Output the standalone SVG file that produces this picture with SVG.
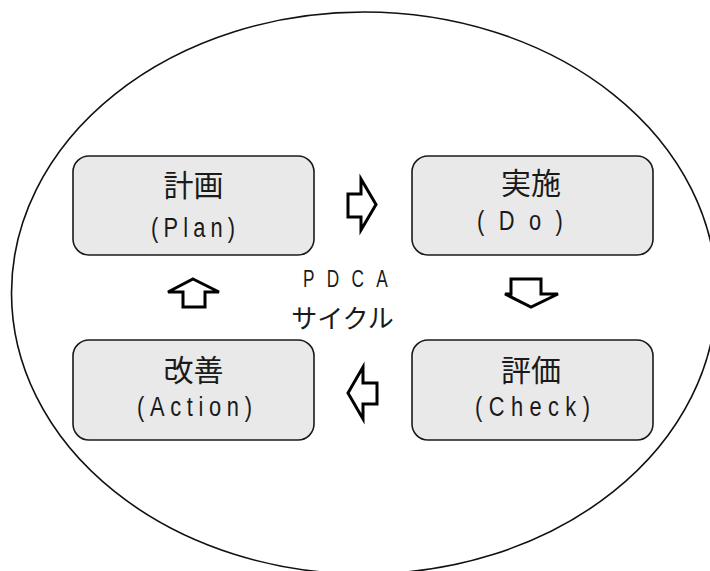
<svg xmlns="http://www.w3.org/2000/svg" width="710" height="571" viewBox="0 0 710 571">
<style>
.bg{fill:#fff}
.cycle{fill:none;stroke:#111;stroke-width:1.6}
.box{fill:#e9e9e9;stroke:#1a1a1a;stroke-width:1.6}
.t{font-family:"Liberation Sans","Noto Sans CJK JP",sans-serif;fill:#1a1a1a}
.jp{font-family:"Noto Sans CJK JP",sans-serif;font-size:30px;text-anchor:middle}
.en{font-size:28px}
.arr{fill:#fff;stroke:#000;stroke-width:3;stroke-linejoin:miter}
</style>
<rect class="bg" x="0" y="0" width="710" height="571"/>
<ellipse class="cycle" cx="364" cy="293" rx="352.5" ry="281"/>
<g id="label-pdca">
<text class="t" transform="translate(303,287) scale(0.75,1)" font-size="23" textLength="113" lengthAdjust="spacing">PDCA</text>
<text class="t" x="342.5" y="328" font-size="26" text-anchor="middle" font-family="Noto Sans CJK JP,sans-serif">サイクル</text>
</g>
<g id="node-plan">
<rect class="box" x="73" y="156" width="241" height="99" rx="16"/>
<text class="t jp" x="193.5" y="196">計画</text>
<text class="t en" transform="translate(151,237) scale(0.78,1)" textLength="107.7" lengthAdjust="spacing">(Plan)</text>
</g>
<g id="node-do">
<rect class="box" x="412" y="156" width="241" height="99" rx="16"/>
<text class="t jp" x="531" y="194">実施</text>
<text class="t en" transform="translate(477,230) scale(0.78,1)" textLength="110" lengthAdjust="spacing">(Do)</text>
</g>
<g id="node-check">
<rect class="box" x="412" y="340" width="241" height="100" rx="16"/>
<text class="t jp" x="531" y="381">評価</text>
<text class="t en" transform="translate(475,416) scale(0.78,1)" textLength="147.4" lengthAdjust="spacing">(Check)</text>
</g>
<g id="node-action">
<rect class="box" x="73" y="340" width="241" height="100" rx="16"/>
<text class="t jp" x="193.5" y="381">改善</text>
<text class="t en" transform="translate(137,416) scale(0.78,1)" textLength="147.4" lengthAdjust="spacing">(Action)</text>
</g>
<g id="connectors">
<path class="arr" d="M348,194 H361 V179 L376,204.5 L361,230 V217 H348 Z"/>
<path class="arr" d="M511,279 H541 V294 H558 L531,307 L505,294 H511 Z"/>
<path class="arr" d="M348,393 L363,367 V383 H377 V404 H363 V419 Z"/>
<path class="arr" d="M193,279 L219,292 H205 V307 H183 V292 H168 Z"/>
</g>
</svg>
